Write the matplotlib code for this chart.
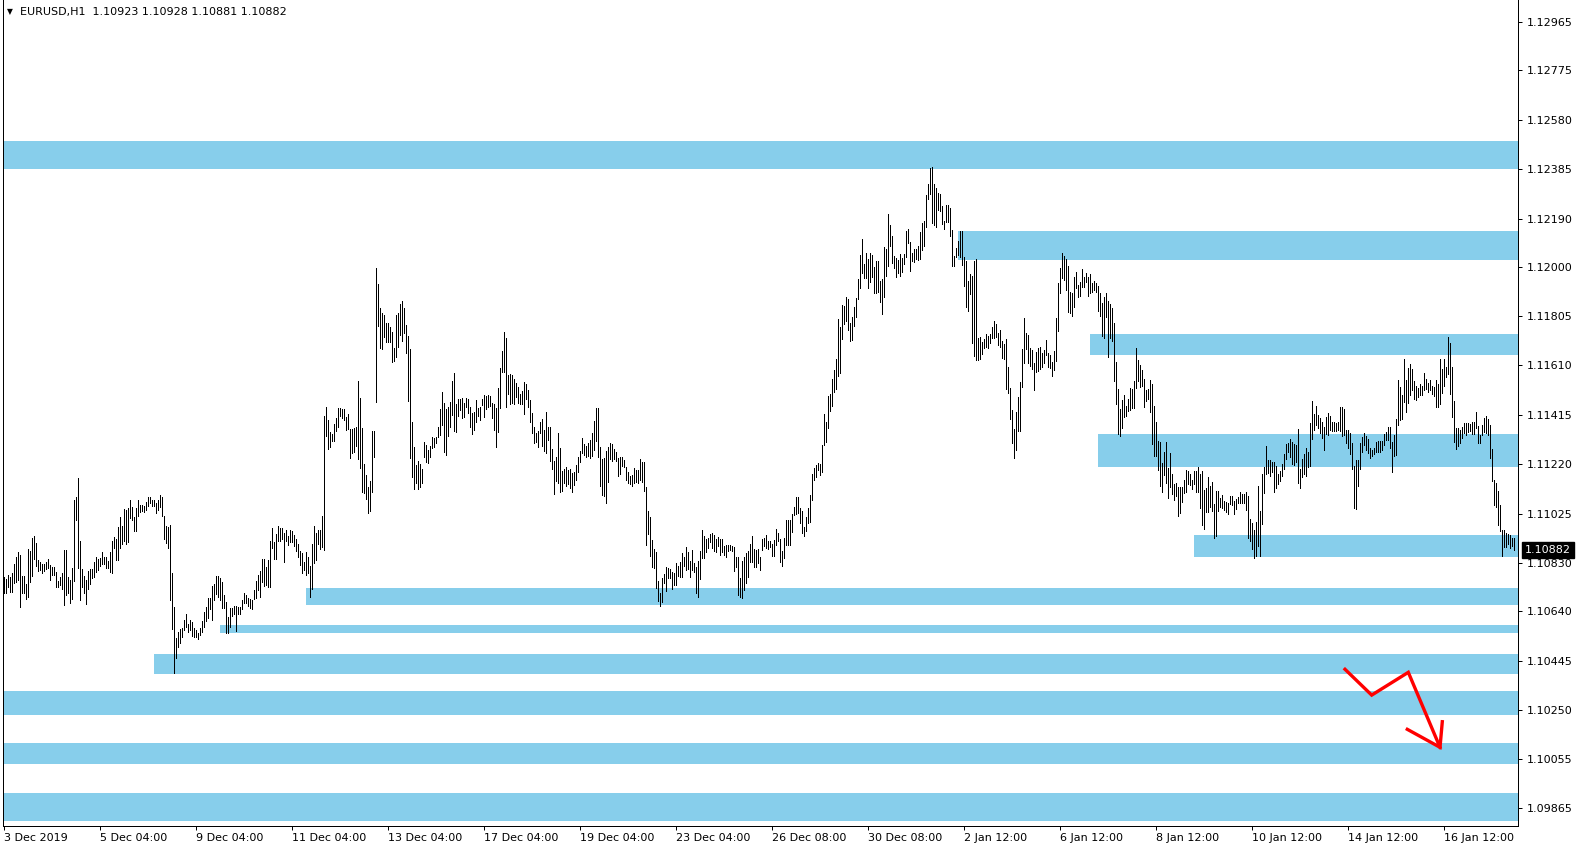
import numpy as np
import matplotlib
matplotlib.use("Agg")
import matplotlib.pyplot as plt
from matplotlib.collections import LineCollection
from matplotlib.patches import Rectangle
from matplotlib.transforms import blended_transform_factory

symbol = "EURUSD,H1"
last_ohlc = [1.10923, 1.10928, 1.10881, 1.10882]

# H1 bars, high / low in points (1e-5)
bar_high = [
    110776, 110768, 110784, 110776, 110792, 110828, 110856, 110872, 110864, 110780,
    110780, 110748, 110884, 110876, 110928, 110936, 110908, 110844, 110836, 110828,
    110828, 110836, 110848, 110824, 110816, 110816, 110796, 110760, 110776, 110792,
    110880, 110880, 110776, 110764, 110812, 111080, 111092, 111164, 110916, 110808,
    110780, 110764, 110800, 110808, 110808, 110836, 110856, 110848, 110852, 110872,
    110856, 110856, 110840, 110872, 110916, 110932, 110924, 110972, 111012, 110976,
    111044, 111040, 111048, 111080, 111052, 111012, 111048, 111080, 111060, 111060,
    111056, 111072, 111092, 111092, 111080, 111080, 111068, 111080, 111100, 111092,
    111016, 110976, 110972, 110980, 110792, 110656, 110535, 110559, 110571, 110575,
    110607, 110628, 110591, 110607, 110599, 110575, 110567, 110555, 110575, 110603,
    110636, 110656, 110692, 110692, 110740, 110748, 110780, 110780, 110772, 110756,
    110704, 110676, 110616, 110652, 110652, 110660, 110660, 110656, 110656, 110684,
    110712, 110704, 110692, 110688, 110684, 110724, 110760, 110784, 110800,
    110848, 110848, 110816, 110844, 110916, 110968, 110912, 110944, 110976, 110968,
    110968, 110948, 110960, 110936, 110960, 110956, 110940, 110924, 110904, 110876,
    110868, 110836, 110872, 110856, 110820, 110904, 110976, 110948, 110960, 110960,
    111016, 111411, 111447, 111395, 111347, 111339, 111379, 111403, 111443, 111443,
    111439, 111439, 111407, 111419, 111359, 111359, 111363, 111367, 111547, 111483,
    111363, 111220, 111176, 111132, 111156, 111351, 111351, 111995, 111931, 111835,
    111819, 111811, 111779, 111779, 111763, 111743, 111679, 111811, 111819, 111851,
    111863, 111835, 111771, 111727, 111675, 111387, 111287, 111216, 111232, 111220,
    111200, 111307, 111295, 111275, 111291, 111327, 111323, 111327, 111367, 111439,
    111507, 111463, 111439, 111447, 111467, 111547, 111579, 111459, 111479, 111479,
    111483, 111463, 111483, 111479, 111447, 111423, 111427, 111475, 111443, 111447,
    111479, 111495, 111491, 111495, 111491, 111463, 111459, 111443, 111523, 111599,
    111667, 111743, 111719, 111571, 111575,
    111571, 111555, 111539, 111527, 111499, 111511, 111543, 111535, 111515, 111475,
    111423, 111367, 111343, 111351, 111387, 111399, 111355, 111427, 111367, 111367,
    111279, 111232, 111247, 111343, 111283, 111192, 111200, 111208, 111196, 111200,
    111184, 111188, 111216, 111247, 111271, 111323, 111299, 111291, 111303, 111315,
    111343, 111391, 111443, 111443, 111287, 111239, 111243, 111271, 111287, 111303,
    111299, 111279, 111267, 111243, 111247, 111247, 111236, 111208, 111188, 111172,
    111176, 111204, 111196, 111196, 111240, 111228, 111228, 111132, 111036, 111012,
    110920, 110884, 110872, 110760, 110712, 110772, 110788, 110816, 110812, 110808,
    110796, 110792, 110832, 110820, 110836, 110868, 110856, 110892, 110872, 110840,
    110880, 110832, 110816, 110840, 110876, 110960, 110936, 110924, 110928, 110944,
    110948, 110940, 110924, 110932, 110924, 110924, 110896, 110900, 110900, 110900,
    110896, 110892, 110856, 110856, 110772, 110840, 110856, 110868, 110876, 110904,
    110936, 110884, 110880, 110884, 110856,
    110924, 110928, 110940, 110916, 110916, 110904, 110920, 110964, 110948, 110924,
    110876, 110928, 111000, 111000, 111000, 111024, 111052, 111092, 111092, 111048,
    111036, 110972, 111012, 111048, 111100, 111180, 111204, 111216, 111224, 111220,
    111295, 111419, 111387, 111491, 111499, 111555, 111591, 111635, 111795, 111763,
    111847, 111843, 111879, 111871, 111779, 111803, 111839, 111875, 111951, 112047,
    112111, 112011, 112055, 112031, 112055, 112047, 111999, 112023, 112023, 111943,
    111951, 112079, 112071, 112208, 112164, 112123, 112043, 112035, 112027, 112051,
    112035, 112051, 112139, 112147, 112099, 112055, 112071, 112071, 112083, 112135,
    112172, 112180, 112284, 112328, 112388, 112392, 112328, 112312, 112292, 112288,
    112240, 112180, 112244, 112244, 112232, 112143, 112043, 112075, 112103, 112139,
    112139, 112039, 112023, 111943, 111971, 111963, 112023, 112031, 111719, 111723,
    111703, 111715, 111735, 111727, 111735, 111763, 111787, 111775, 111739, 111751,
    111707, 111695, 111715, 111603, 111523,
    111435, 111359, 111427, 111487, 111543, 111675, 111799, 111739, 111731, 111679,
    111671, 111619, 111663, 111679, 111683, 111659, 111671, 111711, 111659, 111651,
    111623, 111667, 111799, 111935, 111995, 112055, 112043, 112031, 112003, 111899,
    111895, 111959, 111979, 111927, 111939, 111991, 111959, 111975, 111959, 111971,
    111935, 111943, 111935, 111923, 111895, 111855, 111879, 111895, 111863, 111851,
    111835, 111779, 111623, 111519, 111439, 111475, 111495, 111451, 111479, 111523,
    111519, 111547, 111679, 111631, 111611, 111591, 111555, 111515, 111519, 111551,
    111535, 111451, 111387, 111311, 111307, 111224, 111267, 111307, 111204, 111264,
    111180, 111144, 111148, 111132, 111132, 111132, 111160, 111196, 111192, 111180,
    111160, 111192, 111192, 111208, 111180, 111192, 111120, 111128, 111168, 111136,
    111152, 111064, 111116, 111116, 111088, 111100, 111076, 111072, 111068, 111096,
    111096, 111076, 111084, 111092, 111112, 111104, 111104, 111112, 111096, 111004,
    110988, 110960, 110992, 111136, 111036, 111180, 111208, 111291, 111236, 111236,
    111228, 111228, 111212, 111180, 111192, 111220, 111259, 111299, 111303, 111319,
    111307, 111299, 111295, 111359, 111200, 111239, 111259, 111283, 111267, 111383,
    111471, 111419, 111451, 111415, 111403, 111387, 111367, 111407, 111423, 111411,
    111387, 111387, 111383, 111387, 111447, 111447, 111439, 111355, 111355, 111343,
    111303, 111212, 111236, 111236, 111303, 111327, 111343, 111331, 111319, 111283,
    111275, 111283, 111307, 111311, 111311, 111311, 111339, 111347, 111367, 111367,
    111307, 111335, 111399, 111551, 111527, 111495, 111635, 111551, 111599, 111615,
    111595, 111547, 111531, 111523, 111535, 111531, 111579, 111555, 111539, 111551,
    111531, 111527, 111551, 111535, 111635, 111595, 111635, 111603, 111723, 111699,
    111603, 111471, 111363, 111363, 111355, 111367, 111383, 111383, 111383, 111379,
    111387, 111387, 111427, 111371, 111335, 111375, 111403, 111411, 111399, 111375,
    111279, 111160, 111148, 111116, 111060, 110960, 110960,
    110948, 110944, 110940, 110928, 110928,
]
bar_low = [
    110712, 110712, 110736, 110716, 110716, 110752, 110756, 110764, 110656, 110712,
    110712, 110688, 110696, 110756, 110780, 110848, 110820, 110800, 110804, 110792,
    110800, 110808, 110812, 110764, 110784, 110784, 110736, 110736, 110744, 110728,
    110664, 110704, 110712, 110672, 110688, 110760, 111000, 110812, 110684, 110736,
    110712, 110668, 110728, 110748, 110772, 110776, 110796, 110804, 110820, 110828,
    110828, 110812, 110812, 110796, 110792, 110888, 110844, 110844, 110888, 110904,
    110916, 110904, 110912, 111008, 111000, 110956, 110956, 111016, 111032, 111036,
    111032, 111040, 111056, 111068, 111056, 111056, 111028, 111040, 111052, 111016,
    110924, 110908, 110888, 110684, 110571, 110395, 110455, 110499, 110515, 110539,
    110567, 110579, 110559, 110567, 110543, 110539, 110539, 110531, 110547, 110559,
    110579, 110603, 110612, 110648, 110607, 110684, 110708, 110696, 110684, 110652,
    110652, 110555, 110555, 110579, 110620, 110628, 110563, 110628, 110628, 110648,
    110672, 110672, 110660, 110652, 110648, 110688, 110692, 110724, 110696,
    110756, 110740, 110744, 110736, 110736, 110888, 110848, 110848, 110916, 110916,
    110924, 110836, 110916, 110900, 110912, 110912, 110896, 110876, 110856, 110824,
    110792, 110804, 110784, 110792, 110696, 110728, 110832, 110844, 110904, 110884,
    110892, 110880, 111331, 111279, 111287, 111311, 111311, 111351, 111367, 111411,
    111403, 111395, 111355, 111359, 111243, 111263, 111267, 111291, 111240, 111204,
    111112, 111108, 111084, 111028, 111036, 111112, 111247, 111467, 111767, 111679,
    111675, 111723, 111703, 111703, 111703, 111623, 111627, 111643, 111683, 111731,
    111707, 111739, 111659, 111471, 111243, 111168, 111124, 111148, 111124, 111132,
    111148, 111247, 111228, 111224, 111247, 111283, 111287, 111303, 111327, 111335,
    111375, 111267, 111255, 111331, 111367, 111415, 111351, 111347, 111411, 111435,
    111403, 111407, 111447, 111423, 111367, 111339, 111355, 111387, 111411, 111395,
    111455, 111407, 111439, 111447, 111451, 111403, 111355, 111287, 111347, 111443,
    111583, 111583, 111447, 111499, 111459,
    111463, 111459, 111487, 111463, 111459, 111459, 111419, 111479, 111447, 111387,
    111343, 111303, 111307, 111287, 111343, 111291, 111271, 111263, 111315, 111232,
    111200, 111104, 111156, 111148, 111112, 111116, 111148, 111136, 111144, 111128,
    111112, 111140, 111160, 111188, 111228, 111263, 111255, 111247, 111251, 111243,
    111251, 111275, 111311, 111247, 111136, 111100, 111096, 111068, 111152, 111239,
    111232, 111239, 111232, 111172, 111180, 111212, 111208, 111160, 111148, 111144,
    111136, 111148, 111152, 111148, 111160, 111152, 111116, 110900, 110944, 110860,
    110816, 110812, 110732, 110680, 110660, 110676, 110752, 110720, 110772, 110772,
    110728, 110744, 110744, 110780, 110776, 110776, 110820, 110804, 110808, 110776,
    110804, 110796, 110712, 110696, 110768, 110852, 110852, 110872, 110888, 110912,
    110888, 110876, 110872, 110896, 110864, 110872, 110864, 110856, 110876, 110880,
    110876, 110800, 110816, 110704, 110696, 110692, 110724, 110752, 110776, 110836,
    110836, 110816, 110816, 110832, 110804,
    110880, 110896, 110888, 110884, 110892, 110860, 110860, 110900, 110916, 110836,
    110820, 110852, 110900, 110900, 110900, 110952, 111020, 111024, 111028, 110988,
    110948, 110936, 110956, 110988, 110992, 111080, 111160, 111168, 111196, 111176,
    111188, 111295, 111307, 111363, 111431, 111451, 111507, 111519, 111567, 111579,
    111715, 111775, 111787, 111751, 111707, 111711, 111767, 111803, 111871, 111915,
    111975, 111955, 111955, 111915, 111939, 111959, 111895, 111895, 111899, 111859,
    111815, 111879, 111963, 112003, 112083, 112015, 111995, 111959, 111975, 111963,
    111979, 112011, 112039, 112095, 111983, 112023, 112019, 112031, 112027, 112031,
    112067, 112083, 112156, 112268, 112288, 112172, 112164, 112156, 112224, 112220,
    112168, 112147, 112176, 112176, 112123, 112003, 112003, 112039, 112047, 112039,
    112007, 111923, 111839, 111827, 111891, 111699, 111647, 111631, 111631, 111635,
    111655, 111679, 111683, 111679, 111699, 111719, 111719, 111723, 111691, 111683,
    111639, 111635, 111519, 111503, 111399,
    111303, 111243, 111275, 111351, 111351, 111527, 111619, 111675, 111619, 111607,
    111595, 111515, 111583, 111587, 111595, 111603, 111619, 111651, 111603, 111599,
    111567, 111591, 111627, 111747, 111895, 111955, 111947, 111907, 111823, 111819,
    111807, 111839, 111915, 111879, 111883, 111919, 111919, 111939, 111883, 111895,
    111899, 111907, 111899, 111827, 111807, 111727, 111719, 111803, 111643, 111719,
    111707, 111547, 111459, 111339, 111331, 111363, 111407, 111411, 111431, 111435,
    111443, 111443, 111523, 111547, 111527, 111531, 111447, 111471, 111479, 111427,
    111299, 111251, 111251, 111196, 111136, 111112, 111176, 111148, 111088, 111132,
    111104, 111080, 111096, 111016, 111028, 111072, 111108, 111112, 111144, 111140,
    111124, 111144, 111112, 111112, 111048, 110980, 110964, 111032, 111032, 111052,
    111036, 110928, 110936, 111036, 111052, 111048, 111040, 111032, 111024, 111064,
    111060, 111024, 111044, 111068, 111068, 111068, 111068, 111040, 110928, 110916,
    110884, 110852, 110860, 110896, 110860, 110984, 111108, 111180, 111184, 111172,
    111188, 111112, 111128, 111144, 111156, 111172, 111200, 111240, 111267, 111247,
    111220, 111216, 111228, 111148, 111128, 111168, 111180, 111172, 111208, 111212,
    111319, 111355, 111375, 111363, 111343, 111323, 111275, 111339, 111335, 111355,
    111351, 111351, 111351, 111355, 111351, 111331, 111335, 111303, 111283, 111259,
    111200, 111048, 111044, 111136, 111200, 111267, 111295, 111275, 111263, 111243,
    111251, 111259, 111267, 111267, 111267, 111275, 111295, 111315, 111315, 111283,
    111188, 111251, 111255, 111375, 111395, 111399, 111467, 111427, 111463, 111495,
    111515, 111479, 111475, 111487, 111495, 111495, 111515, 111519, 111507, 111515,
    111499, 111491, 111447, 111447, 111459, 111503, 111531, 111563, 111575, 111499,
    111407, 111307, 111279, 111291, 111303, 111323, 111343, 111335, 111347, 111351,
    111339, 111339, 111363, 111303, 111303, 111335, 111347, 111343, 111335, 111243,
    111156, 111060, 111052, 110980, 110956, 110860, 110892,
    110892, 110904, 110888, 110896, 110881,
]

# time scale labels, one every 48 bars
date_labels = ["3 Dec 2019", "5 Dec 04:00", "9 Dec 04:00", "11 Dec 04:00",
               "13 Dec 04:00", "17 Dec 04:00", "19 Dec 04:00", "23 Dec 04:00",
               "26 Dec 08:00", "30 Dec 08:00", "2 Jan 12:00", "6 Jan 12:00",
               "8 Jan 12:00", "10 Jan 12:00", "14 Jan 12:00", "16 Jan 12:00"]
label_step = 48

price_ticks = [1.12965, 1.12775, 1.12580, 1.12385, 1.12190, 1.12000, 1.11805,
               1.11610, 1.11415, 1.11220, 1.11025, 1.10830, 1.10640, 1.10445,
               1.10250, 1.10055, 1.09865]

# support / resistance rectangles (first bar, top, bottom)
zone_start = [-5, 477, 543, 547, 595, 151, 108, 75, -5, -5, -5]
zone_top = [1.12495, 1.12141, 1.11734, 1.11340, 1.10941, 1.10732, 1.10586,
            1.10471, 1.10325, 1.10120, 1.09921]
zone_bottom = [1.12387, 1.12026, 1.11651, 1.11209, 1.10854, 1.10665, 1.10554,
               1.10392, 1.10231, 1.10037, 1.09813]

# hand drawn red arrow
arrow_bar = [670.75, 684.1, 702.4, 718.25]
arrow_price = [1.10411, 1.10309, 1.10399, 1.10103]
head_bar = [701.9, 718.25, 719.4]
head_price = [1.10174, 1.10103, 1.10204]

W, H = 1582, 850
fig = plt.figure(figsize=(W / 100, H / 100), dpi=100)
fig.patch.set_facecolor("white")
ax = fig.add_axes([2.5 / W, 24 / H, (1518 - 2.5) / W, 826 / H])
ax.set_xlim(-0.5, 757.25)
ax.set_ylim(1.097924, 1.130526)

for s, t, b in zip(zone_start, zone_top, zone_bottom):
    ax.add_patch(Rectangle((s, b), 800 - s, t - b, facecolor="#87CEEB",
                           edgecolor="none", zorder=1))

high = np.array(bar_high) / 1e5
low = np.array(bar_low) / 1e5
n = min(len(high), len(low))
segs = [[(i, low[i]), (i, high[i])] for i in range(n)]
ax.add_collection(LineCollection(segs, colors="black", linewidths=0.72,
                                 antialiaseds=False, zorder=2))

ax.plot(arrow_bar, arrow_price, color="red", lw=2.4, zorder=3,
        solid_joinstyle="miter")
ax.plot(head_bar, head_price, color="red", lw=2.4, zorder=3,
        solid_joinstyle="miter")

for side in ["left", "right", "bottom"]:
    ax.spines[side].set_color("black")
    ax.spines[side].set_linewidth(0.72)
ax.spines["top"].set_visible(False)

ax.yaxis.tick_right()
ax.set_yticks(price_ticks)
ax.set_yticklabels([f"{p:.5f}" for p in price_ticks])
ax.tick_params(axis="y", direction="out", length=3, width=0.72, pad=3,
               labelsize=8, colors="black")
ax.set_xticks(np.arange(len(date_labels)) * label_step)
ax.set_xticklabels(date_labels, ha="left")
ax.tick_params(axis="x", direction="out", length=3, width=0.72, pad=2,
               labelsize=8, colors="black")

# current price label
trans = blended_transform_factory(ax.transAxes, ax.transData)
ax.text(1.0 + 7 / 1515.5, last_ohlc[3], f"{last_ohlc[3]:.5f}", transform=trans,
        color="white", fontsize=8, va="center", ha="left",
        bbox=dict(boxstyle="square,pad=0.25", fc="black", ec="black"))

# header
fig.text(7 / W, 1 - 12 / H, "\u25bc", fontsize=5.5, va="center", ha="left")
header = symbol + "  " + " ".join(f"{v:.5f}" for v in last_ohlc)
fig.text(20 / W, 1 - 12 / H, header, fontsize=8, va="center", ha="left")

fig.savefig("out.png", dpi=100, facecolor="white")
